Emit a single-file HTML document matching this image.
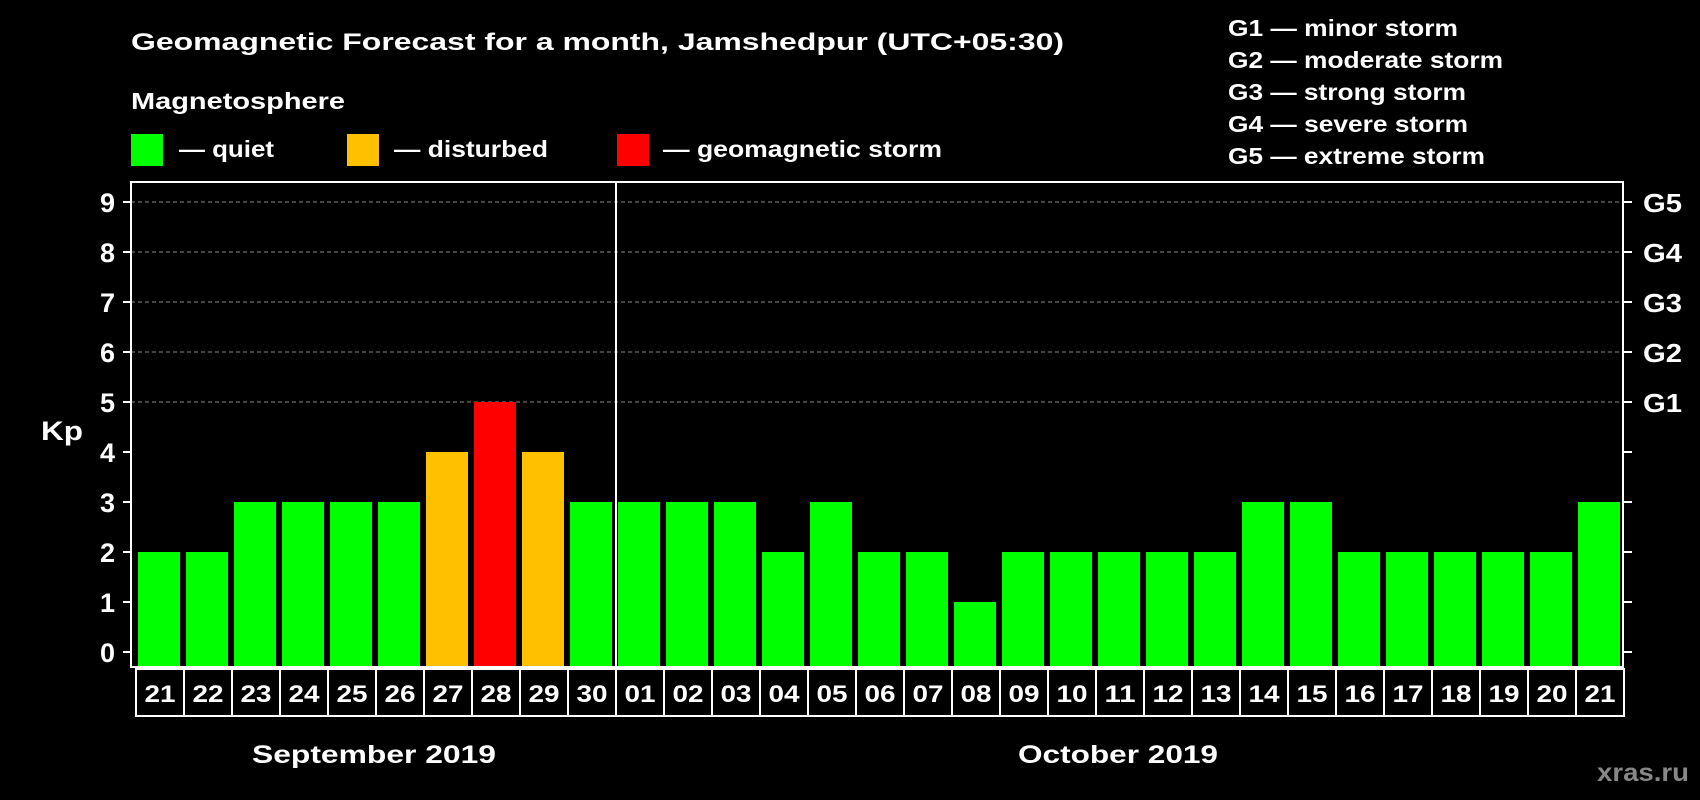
<!DOCTYPE html>
<html><head><meta charset="utf-8"><style>
html,body{margin:0;padding:0;background:#000;}
svg{display:block;font-family:"Liberation Sans",Arial,sans-serif;font-weight:bold;}
</style></head><body>
<svg id="chart" width="1700" height="800" viewBox="0 0 1700 800">
<rect width="1700" height="800" fill="#000"/>
<text x="131" y="50" fill="#fff" font-size="24" textLength="933" lengthAdjust="spacingAndGlyphs">Geomagnetic Forecast for a month, Jamshedpur (UTC+05:30)</text>
<text x="131" y="109" fill="#fff" font-size="23" textLength="214" lengthAdjust="spacingAndGlyphs">Magnetosphere</text>
<g>
<rect x="131" y="134" width="32" height="32" fill="#00ff00"/>
<text x="179" y="157" fill="#fff" font-size="23" textLength="95" lengthAdjust="spacingAndGlyphs">— quiet</text>
<rect x="347" y="134" width="32" height="32" fill="#ffc000"/>
<text x="394" y="157" fill="#fff" font-size="23" textLength="154" lengthAdjust="spacingAndGlyphs">— disturbed</text>
<rect x="617" y="134" width="32" height="32" fill="#ff0000"/>
<text x="663" y="157" fill="#fff" font-size="23" textLength="279" lengthAdjust="spacingAndGlyphs">— geomagnetic storm</text>
</g>
<g fill="#fff" font-size="23">
<text x="1228" y="36" textLength="230" lengthAdjust="spacingAndGlyphs">G1 — minor storm</text>
<text x="1228" y="68" textLength="275" lengthAdjust="spacingAndGlyphs">G2 — moderate storm</text>
<text x="1228" y="100" textLength="238" lengthAdjust="spacingAndGlyphs">G3 — strong storm</text>
<text x="1228" y="132" textLength="240" lengthAdjust="spacingAndGlyphs">G4 — severe storm</text>
<text x="1228" y="164" textLength="257" lengthAdjust="spacingAndGlyphs">G5 — extreme storm</text>
</g>
<text x="41" y="440" fill="#fff" font-size="27" textLength="42" lengthAdjust="spacingAndGlyphs">Kp</text>
<g id="grid"></g>
<g id="bars"></g>
<g id="axes"></g>
<text x="374" y="763" fill="#fff" font-size="25" text-anchor="middle" textLength="244" lengthAdjust="spacingAndGlyphs">September 2019</text>
<text x="1118" y="763" fill="#fff" font-size="25" text-anchor="middle" textLength="200" lengthAdjust="spacingAndGlyphs">October 2019</text>
<text x="1689" y="781" fill="#888" font-size="25" text-anchor="end" textLength="92" lengthAdjust="spacingAndGlyphs">xras.ru</text>
</svg>
<script>
const days = ["21","22","23","24","25","26","27","28","29","30","01","02","03","04","05","06","07","08","09","10","11","12","13","14","15","16","17","18","19","20","21"];
const kpValues = [2,2,3,3,3,3,4,5,4,3,3,3,3,2,3,2,2,1,2,2,2,2,2,3,3,2,2,2,2,2,3];
const yTicks = [0,1,2,3,4,5,6,7,8,9];
const gLabels = ["","","","","","G1","G2","G3","G4","G5"];
const monthSplit = 10;

const NS="http://www.w3.org/2000/svg";
const L=131,R=1623,T=182,B=667,Y0=652,UNIT=50,X0=136,STEP=48;
const y=v=>Y0-v*UNIT;
const x=i=>X0+i*STEP;
function mk(tag,attrs,parent){const e=document.createElementNS(NS,tag);for(const k in attrs)e.setAttribute(k,attrs[k]);parent.appendChild(e);return e;}
const grid=document.getElementById('grid'),bars=document.getElementById('bars'),axes=document.getElementById('axes');
yTicks.forEach(v=>{
  if(v>=5){const g=mk('line',{x1:L,x2:R,y1:y(v),y2:y(v),stroke:'#888','stroke-width':1,'stroke-dasharray':'4,3'},grid);
  
  }
  const t=mk('line',{x1:L-8,x2:L,y1:y(v),y2:y(v),stroke:'#fff','stroke-width':2},axes);
  
  
  const t2=mk('line',{x1:R,x2:R+9,y1:y(v),y2:y(v),stroke:'#fff','stroke-width':2},axes);
  
  
  const lb=mk('text',{x:115,y:y(v)+10,fill:'#fff','font-size':27,'text-anchor':'end'},axes);lb.textContent=v;
  
  
  if(gLabels[v]){const gl=mk('text',{x:1643,y:y(v)+10,fill:'#fff','font-size':26,textLength:39,lengthAdjust:'spacingAndGlyphs'},axes);gl.textContent=gLabels[v];
  
  }
});
kpValues.forEach((v,i)=>{
  const c=v>=5?'#ff0000':(v>=4?'#ffc000':'#00ff00');
  const b=mk('rect',{x:x(i)+2,y:y(v),width:42,height:B-y(v),fill:c},bars);
  
  
  const bx=mk('rect',{x:x(i),y:669,width:STEP,height:47,fill:'none',stroke:'#fff','stroke-width':2},axes);
  
  
  const tx=mk('text',{x:x(i)+STEP/2,y:702,fill:'#fff','font-size':24,'text-anchor':'middle',textLength:31,lengthAdjust:'spacingAndGlyphs'},axes);tx.textContent=days[i];
  
  
});
const fr=mk('rect',{x:L,y:T,width:R-L,height:B-T,fill:'none',stroke:'#fff','stroke-width':2},axes);


const dv=mk('line',{x1:x(monthSplit),x2:x(monthSplit),y1:T,y2:716,stroke:'#fff','stroke-width':2},axes);


</script>
</body></html>
